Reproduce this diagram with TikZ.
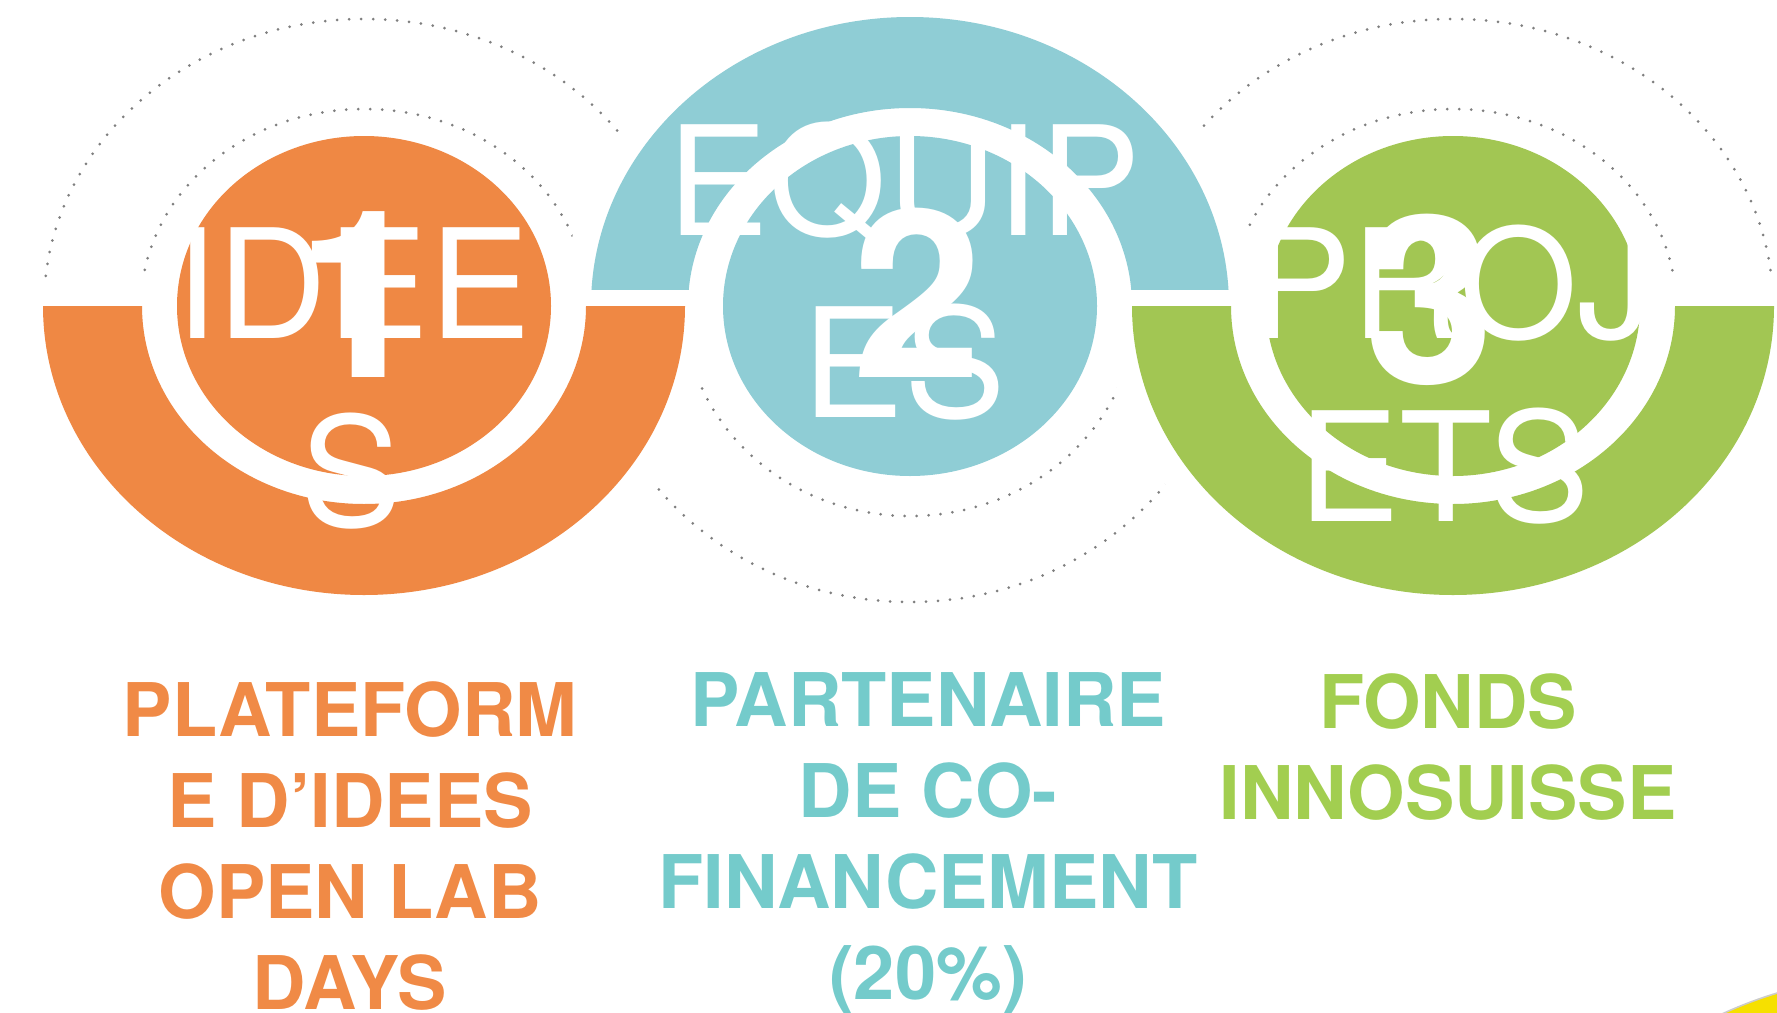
\documentclass[tikz,border=0pt]{standalone}
\usepackage{fontspec}
\setmainfont{TeX Gyre Heros}
\definecolor{orangeC}{HTML}{EF8844}
\definecolor{orangeT}{HTML}{F08A46}
\definecolor{blueC}{HTML}{8FCDD5}
\definecolor{blueT}{HTML}{74CBCB}
\definecolor{greenC}{HTML}{A2C653}
\definecolor{greenT}{HTML}{A2CE50}
\definecolor{dotC}{HTML}{7F7F7F}
\definecolor{yellowC}{HTML}{F6E000}
\begin{document}
\begin{tikzpicture}[x=0.5pt,y=-0.5pt,
  dots/.style={dotC, line width=1.5pt, line cap=round, dash pattern=on 0pt off 6pt},
  halo/.style={fill=white, draw=white, line width=27pt, line join=round},
  bigword/.style={text=white, font=\fontsize{76}{91}\selectfont, inner sep=0pt, anchor=base},
  bignum/.style={text=white, font=\bfseries\fontsize{117}{120}\selectfont, inner sep=0pt, anchor=base},
  caption/.style={font=\bfseries\fontsize{37}{45.5}\selectfont, align=center, inner sep=0pt, anchor=north}]
\useasboundingbox (0,0) rectangle (1777,1012);
\clip (0,0) rectangle (1777,1012);
\coordinate (c1) at (364,306);
\coordinate (c2) at (910,306);
\coordinate (c3) at (1453,306);
% dotted arcs
\draw[dots] (684,306) arc[start angle=0, end angle=-180, x radius=320, y radius=287];
\draw[dots] (587,306) arc[start angle=0, end angle=-180, x radius=223, y radius=197];
\draw[dots] (1773,306) arc[start angle=0, end angle=-180, x radius=320, y radius=287];
\draw[dots] (1676,306) arc[start angle=0, end angle=-180, x radius=223, y radius=197];
\draw[dots] (1230,306) arc[start angle=0, end angle=180, x radius=320, y radius=296];
\draw[dots] (1136,306) arc[start angle=0, end angle=180, x radius=226, y radius=210];
% white halos round the bands
\path[halo] (43,306) arc[start angle=180, end angle=0, x radius=321, y radius=289] -- cycle;
\path[halo] (1132,306) arc[start angle=180, end angle=0, x radius=321, y radius=289] -- cycle;
\path[halo] (591.5,289) arc[start angle=-176.63, end angle=-3.37, x radius=319, y radius=289] -- cycle;
% bands
\begin{scope}
  \clip (0,306) rectangle (1777,1012);
  \fill[orangeC, even odd rule] (c1) ellipse[x radius=321, y radius=289] (c1) ellipse[x radius=222, y radius=198];
  \fill[greenC, even odd rule] (c3) ellipse[x radius=321, y radius=289] (c3) ellipse[x radius=222, y radius=198];
\end{scope}
\begin{scope}
  \clip (0,0) rectangle (1777,289);
  \fill[blueC, even odd rule] (c2) ellipse[x radius=319, y radius=289] (c2) ellipse[x radius=222, y radius=198];
\end{scope}
% inner discs
\fill[orangeC] (c1) ellipse[x radius=187, y radius=170];
\fill[blueC] (c2) ellipse[x radius=187, y radius=170];
\fill[greenC] (c3) ellipse[x radius=187, y radius=170];
% big white words and numbers
\node[bigword] (w1a) at (353,338) {IDEE};
\node[bigword] (w1b) at (351,526) {S};
\node[bignum] (n1) at (362,377) {1};
\node[bigword] (w2a) at (904,235) {EQUIP};
\node[bigword] (w2b) at (904,417) {ES};
\node[bignum] (n2) at (918,377) {2};
\node[bigword] (w3a) at (1452,338) {PROJ};
\node[bigword] (w3b) at (1444,521) {ETS};
\node[bignum] (n3) at (1430,383) {3};
% captions
\node[caption, text=orangeT] (cap1) at (350,681) {PLATEFORM\\E D’IDEES\\OPEN LAB\\DAYS};
\node[caption, text=blueT] (cap2) at (928,672) {PARTENAIRE\\DE CO-\\FINANCEMENT\\(20\%)};
\node[caption, text=greenT] (cap3) at (1448,673) {FONDS\\INNOSUISSE};
% yellow corner
\fill[yellowC, draw=gray!40, line width=0.8pt] (1900,1400) circle[radius=425];
\end{tikzpicture}
\end{document}
